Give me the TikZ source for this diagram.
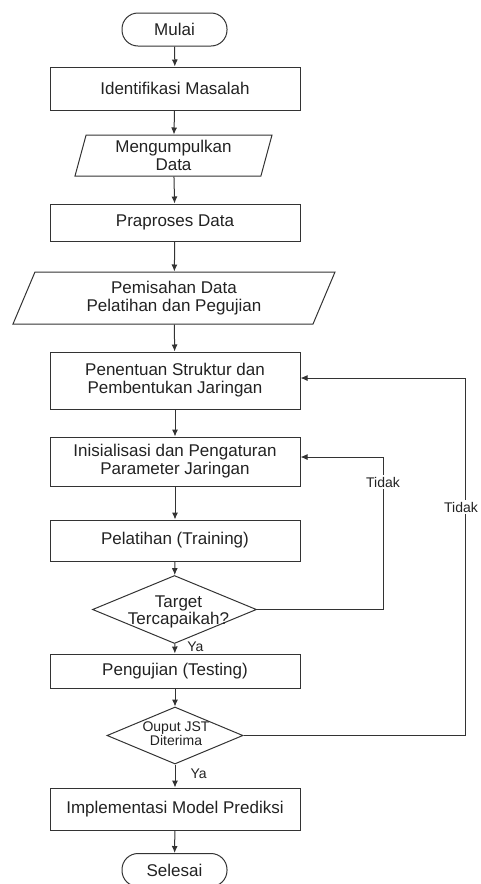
\documentclass[tikz,border=0pt]{standalone}
\usepackage{fontspec}
\setmainfont{Liberation Sans}
\usetikzlibrary{shapes.geometric,arrows.meta}
\definecolor{ln}{HTML}{333333}
\definecolor{tx}{HTML}{222222}
\tikzset{
  base/.style={draw=ln, line width=1pt, text=tx, align=center, inner sep=0pt,
    font=\fontsize{17}{18}\selectfont},
  term/.style={base, rectangle, rounded corners=16pt, minimum width=105pt, minimum height=33pt},
  proc/.style={base, rectangle, minimum width=250pt},
  io/.style={base, trapezium, trapezium stretches body},
  dec/.style={base, diamond},
  arr/.style={draw=ln, line width=1pt, -{Latex[length=7pt,width=6pt]}},
  lbl/.style={text=tx, font=\fontsize{14}{14}\selectfont, inner sep=1pt},
  lblw/.style={lbl, fill=white, inner sep=1.5pt}
}
\begin{document}
\begin{tikzpicture}[x=1pt,y=-1pt]
\useasboundingbox (0,0) rectangle (480,884);
\node[term] (mulai) at (174.5,29.5) {Mulai};
\node[proc, minimum height=43pt] (ident) at (175,88.5) {Identifikasi Masalah};
\node[io, trapezium left angle=70, trapezium right angle=110, minimum width=197pt, minimum height=41pt] (kumpul) at (173.5,155.5) {Mengumpulkan\\Data};
\node[proc, minimum height=37pt] (prap) at (175,222.5) {Praproses Data};
\node[io, trapezium left angle=57, trapezium right angle=123, minimum width=322pt, minimum height=52pt] (pisah) at (174,298) {Pemisahan Data\\Pelatihan dan Pegujian};
\node[proc, minimum height=57pt] (struk) at (175,380.5) {Penentuan Struktur dan\\Pembentukan Jaringan};
\node[proc, minimum height=49pt] (init) at (175,461.5) {Inisialisasi dan Pengaturan\\Parameter Jaringan};
\node[proc, minimum height=41pt] (latih) at (175,540.5) {Pelatihan (Training)};
\node[dec, minimum width=164pt, minimum height=68pt,
  label={[text=tx, align=center, font=\fontsize{17}{14}\selectfont, xshift=4pt, yshift=-2pt]center:Target\\Tercapaikah?}] (target) at (174.5,609.5) {};
\node[proc, minimum height=34pt] (uji) at (175,671) {Pengujian (Testing)};
\node[dec, minimum width=136pt, minimum height=57pt,
  label={[text=tx, align=center, font=\fontsize{14}{13}\selectfont, xshift=1pt, yshift=2pt]center:Ouput JST\\Diterima}] (ouput) at (175,735.5) {};
\node[proc, minimum height=42pt] (impl) at (175,809) {Implementasi Model Prediksi};
\node[term] (selesai) at (174.5,870) {Selesai};

\coordinate (c1) at (383,609.5);
\coordinate (c2) at (383,457);
\coordinate (c3) at (465,735.5);
\coordinate (c4) at (465,378);

\draw[arr] (mulai) -- (ident);
\draw[arr] (ident) -- (kumpul);
\draw[arr] (kumpul) -- (prap);
\draw[arr] (prap) -- (pisah);
\draw[arr] (pisah) -- (struk);
\draw[arr] (struk) -- (init);
\draw[arr] (init) -- (latih);
\draw[arr] (latih) -- (target);
\draw[arr] (target) -- node[lbl, pos=0.3, right=11pt] {Ya} (uji);
\draw[arr] (uji) -- (ouput);
\draw[arr] (ouput) -- node[lbl, pos=0.4, right=14pt] {Ya} (impl);
\draw[arr] (impl) -- (selesai);

\draw[arr] (target.east) -- (c1) -- (c2) -- (init.east |- c2);
\draw[arr] (ouput.east) -- (c3) -- (c4) -- (struk.east |- c4);
\node[lblw] (t1) at (383,482) {Tidak};
\node[lblw] (t2) at (461,507) {Tidak};
\end{tikzpicture}
\end{document}
